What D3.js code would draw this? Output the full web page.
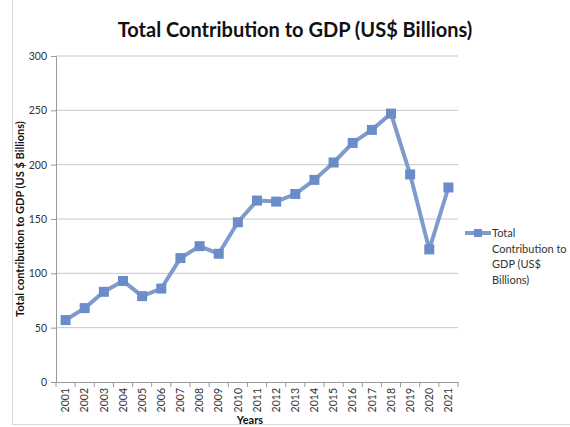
<!DOCTYPE html>
<html>
<head>
<meta charset="utf-8">
<script src="https://cdn.jsdelivr.net/npm/d3@7"></script>
<style>
  body { margin: 0; background: #fff; }
  text { font-family: Lato, "Open Sans", sans-serif; }
</style>
</head>
<body>
<div id="chart"></div>
<script>
var years = ["2001","2002","2003","2004","2005","2006","2007","2008","2009","2010","2011",
             "2012","2013","2014","2015","2016","2017","2018","2019","2020","2021"];
var gdpValues = [57, 68, 83, 93, 79, 86, 114, 125, 118, 147, 167,
                 166, 173, 186, 202, 220, 232, 247, 191, 122, 179];
var yTicks = [0, 50, 100, 150, 200, 250, 300];
var seriesName = ["Total", "Contribution to", "GDP (US$", "Billions)"];

var W = 570, H = 427;
var margin = {top: 56, left: 56, right: 112, bottom: 45};
var width = W - margin.left - margin.right;
var height = H - margin.top - margin.bottom;

var svg = d3.select("#chart").append("svg")
    .attr("width", W)
    .attr("height", H);

// chart frame
svg.append("rect")
    .attr("x", 12.5).attr("y", -1)
    .attr("width", W).attr("height", H - 1.5)
    .attr("fill", "none")
    .attr("stroke", "#d9d9d9");

var g = svg.append("g")
    .attr("transform", "translate(" + margin.left + "," + margin.top + ")");

var x = d3.scaleBand().domain(years).range([0, width]);
var y = d3.scaleLinear().domain([0, 300]).range([height, 0]);

// gridlines
g.selectAll(".grid")
    .data(yTicks.slice(1))
    .enter().append("line")
    .attr("x1", 0).attr("x2", width)
    .attr("y1", function(d) { return y(d); })
    .attr("y2", function(d) { return y(d); })
    .attr("stroke", "#c8c8c8")
    .attr("stroke-width", 1);

// y axis
var yAxis = g.append("g")
    .call(d3.axisLeft(y).tickValues(yTicks).tickSize(5).tickPadding(4));
yAxis.select(".domain").attr("stroke", "#9a9a9a");
yAxis.selectAll(".tick line").attr("stroke", "#9a9a9a");
yAxis.selectAll("text").style("font-size", "10.5px").attr("fill", "#333");

// x axis, tick marks between categories
var xAxis = g.append("g")
    .attr("transform", "translate(0," + height + ")")
    .call(d3.axisBottom(x).tickSize(0).tickPadding(4));
xAxis.select(".domain").attr("stroke", "#9a9a9a");
xAxis.selectAll("text")
    .style("font-size", "10.5px")
    .attr("fill", "#333")
    .attr("transform", "rotate(-90)")
    .attr("text-anchor", "end")
    .attr("dx", 0)
    .attr("dy", "0.35em")
    .attr("y", 0)
    .attr("x", -6);
g.selectAll(".xsep")
    .data(years.concat(["end"]))
    .enter().append("line")
    .attr("x1", function(d, i) { return i * x.step(); })
    .attr("x2", function(d, i) { return i * x.step(); })
    .attr("y1", height).attr("y2", height + 5)
    .attr("stroke", "#9a9a9a");

// line
var line = d3.line()
    .x(function(d, i) { return x(years[i]) + x.bandwidth() / 2; })
    .y(function(d) { return y(d); });

g.append("path")
    .datum(gdpValues)
    .attr("d", line)
    .attr("fill", "none")
    .attr("stroke", "#7f9bcc")
    .attr("stroke-width", 4)
    .attr("stroke-linejoin", "round");

g.selectAll(".pt")
    .data(gdpValues)
    .enter().append("rect")
    .attr("x", function(d, i) { return x(years[i]) + x.bandwidth() / 2 - 5; })
    .attr("y", function(d) { return y(d) - 5; })
    .attr("width", 10).attr("height", 10)
    .attr("fill", "#6b8cc8");

// title
svg.append("text")
    .attr("x", 295).attr("y", 37)
    .attr("text-anchor", "middle")
    .style("font-size", "20px")
    .style("font-weight", "bold")
    .attr("fill", "#111")
    .text("Total Contribution to GDP (US$ Billions)");

// axis titles
svg.append("text")
    .attr("transform", "translate(24," + (margin.top + height / 2) + ") rotate(-90)")
    .attr("text-anchor", "middle")
    .style("font-size", "11px")
    .style("font-weight", "bold")
    .attr("fill", "#111")
    .text("Total contribution to GDP (US $ Billions)");

svg.append("text")
    .attr("x", 250).attr("y", 424)
    .attr("text-anchor", "middle")
    .style("font-size", "11px")
    .style("font-weight", "bold")
    .attr("fill", "#111")
    .text("Years");

// legend
var lg = svg.append("g").attr("transform", "translate(465,233)");
lg.append("line")
    .attr("x1", 0).attr("x2", 26)
    .attr("y1", 0).attr("y2", 0)
    .attr("stroke", "#7f9bcc").attr("stroke-width", 4);
lg.append("rect")
    .attr("x", 9).attr("y", -4).attr("width", 8).attr("height", 8)
    .attr("fill", "#6b8cc8");
lg.selectAll(".lt")
    .data(seriesName)
    .enter().append("text")
    .attr("x", 27)
    .attr("y", function(d, i) { return 4 + i * 15.5; })
    .style("font-size", "11px")
    .attr("fill", "#333")
    .text(function(d) { return d; });
</script>
</body>
</html>
